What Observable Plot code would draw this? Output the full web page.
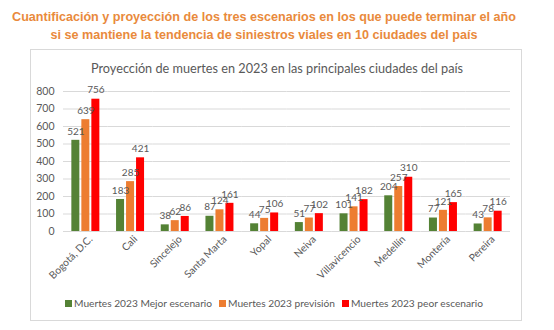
<!DOCTYPE html>
<html>
<head>
<meta charset="utf-8">
<script src="https://cdn.jsdelivr.net/npm/d3@7"></script>
<script src="https://cdn.jsdelivr.net/npm/@observablehq/plot@0.6"></script>
<style>
  body { margin: 0; background: #fff; }
  #page { position: relative; width: 554px; height: 330px; overflow: hidden; background: #fff; }
  #title { position: absolute; left: 0; top: 8px; width: 528px; text-align: center;
    font-family: "Liberation Sans", Arial, sans-serif; font-weight: bold; font-size: 12.6px;
    line-height: 18px; color: #e98a3c; white-space: nowrap; }
  #frame { position: absolute; left: 30px; top: 49px; width: 492px; height: 272px;
    border: 1px solid #d9d9d9; box-sizing: border-box; }
  #ctitle { position: absolute; left: 0; top: 60px; width: 554px; text-align: center;
    font-family: Lato, "Open Sans", sans-serif; font-size: 12.7px; color: #595959; }
  #chart { position: absolute; left: 0; top: 80px; }
  #legend { position: absolute; left: 0; top: 297px; width: 548px; display: flex; justify-content: center;
    font-family: Lato, "Open Sans", sans-serif; font-size: 10.2px; color: #595959; gap: 7px; }
  #legend span.sw { display: inline-block; width: 7px; height: 7px; margin-right: 2px; vertical-align: 0px; }
</style>
</head>
<body>
<div id="page">
  <div id="title">Cuantificación y proyección de los tres escenarios en los que puede terminar el año<br>si se mantiene la tendencia de siniestros viales en 10 ciudades del país</div>
  <div id="frame"></div>
  <div id="ctitle">Proyección de muertes en 2023 en las principales ciudades del país</div>
  <div id="chart"></div>
  <div id="legend"></div>
</div>
<script>
const cities = ["Bogotá, D.C.", "Cali", "Sincelejo", "Santa Marta", "Yopal", "Neiva", "Villavicencio", "Medellín", "Montería", "Pereira"];
const series = ["Muertes 2023 Mejor escenario", "Muertes 2023 previsión", "Muertes 2023 peor escenario"];
const mejor = [521, 183, 38, 87, 44, 51, 101, 204, 77, 43];
const prevision = [639, 285, 62, 124, 75, 77, 141, 257, 121, 78];
const peor = [756, 421, 86, 161, 106, 102, 182, 310, 165, 116];
const yTicks = [0, 100, 200, 300, 400, 500, 600, 700, 800];
const colors = ["#548235", "#ed7d31", "#ff0000"];

const values = [mejor, prevision, peor];
const data = [];
cities.forEach((c, i) => series.forEach((s, j) => data.push({city: c, serie: s, value: values[j][i]})));

const chart = Plot.plot({
  width: 554,
  height: 210,
  marginLeft: 63,
  marginRight: 44,
  marginTop: 11,
  marginBottom: 59,
  style: {fontFamily: "Lato, 'Open Sans', sans-serif", color: "#595959", background: "transparent"},
  fx: {domain: cities, padding: 0, round: false},
  x: {domain: series, paddingInner: 0.2, paddingOuter: 0.835, round: false, axis: null},
  y: {domain: [0, 800]},
  color: {domain: series, range: colors},
  marks: [
    Plot.gridY(yTicks, {stroke: "#d9d9d9", strokeOpacity: 1}),
    Plot.axisY(yTicks, {tickSize: 0, tickPadding: 9, label: null, fontSize: 10.5, fill: "#595959"}),
    Plot.axisFx({anchor: "bottom", tickRotate: -45, tickSize: 0, tickPadding: 6, dx: 5, label: null, fontSize: 10.3, fill: "#595959"}),
    Plot.barY(data, {fx: "city", x: "serie", y: "value", fill: "serie"}),
    Plot.text(data, {fx: "city", x: "serie", y: "value", text: d => String(d.value), dy: -9, fontSize: 10, fill: "#595959"})
  ]
});
document.getElementById("chart").appendChild(chart);

const legend = document.getElementById("legend");
series.forEach((s, j) => {
  const item = document.createElement("div");
  item.innerHTML = `<span class="sw" style="background:${colors[j]}"></span>${s}`;
  legend.appendChild(item);
});
</script>
</body>
</html>
